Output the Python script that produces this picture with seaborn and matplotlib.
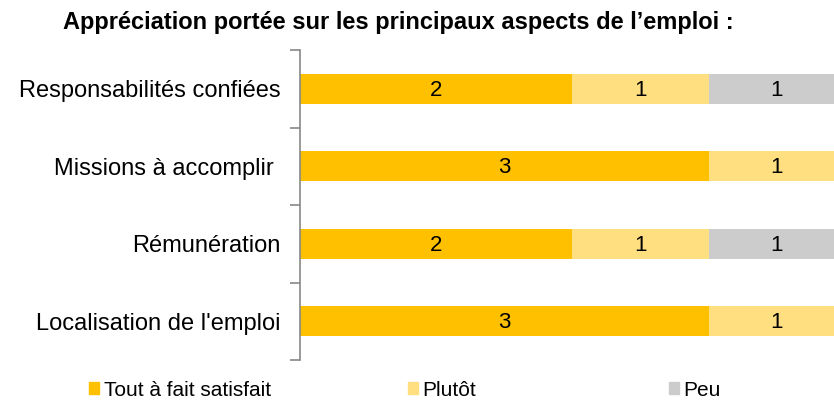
import numpy as np
import pandas as pd
import matplotlib

matplotlib.use('Agg')
import matplotlib.pyplot as plt
import seaborn as sns
from matplotlib.patches import Patch

sns.set_theme(style="white")
plt.rcParams['font.family'] = ['Liberation Sans', 'DejaVu Sans']

# données
categories = ["Responsabilités confiées", "Missions à accomplir ", "Rémunération", "Localisation de l'emploi"]
levels = ["Tout à fait satisfait", "Plutôt", "Peu"]
tout_a_fait = [2, 3, 2, 3]
plutot = [1, 1, 1, 1]
peu = [1, 0, 1, 0]
colors = ["#FFC000", "#FFDF80", "#CCCCCC"]

series = [tout_a_fait, plutot, peu]
cum = np.cumsum(np.array(series), axis=0)

fig = plt.figure(figsize=(8.34, 4.03), dpi=100)
ax = fig.add_axes([300 / 834, 43 / 403, 1 - 300 / 834, 310 / 403])

# barres empilées : on dessine les cumuls du plus grand au plus petit
for i in reversed(range(len(levels))):
    df = pd.DataFrame({"cat": categories, "val": cum[i]})
    sns.barplot(data=df, x="val", y="cat", orient="h", color=colors[i],
                width=0.39, linewidth=0, saturation=1, ax=ax)

# valeurs au centre de chaque segment
for i in range(len(levels)):
    for j, v in enumerate(series[i]):
        if v > 0:
            ax.text(cum[i][j] - v / 2, j + 0.02, str(v), ha='center', va='center',
                    fontsize=16, color='black')

ax.set_xlim(0, 3.92)
ax.set_ylim(3.5, -0.5)
ax.set_xlabel("")
ax.set_ylabel("")
ax.set_xticks([])
for s in ["top", "right", "bottom"]:
    ax.spines[s].set_visible(False)
ax.spines["left"].set_color("#888888")
ax.spines["left"].set_linewidth(1.2)

ax.set_yticks(range(len(categories)))
ax.set_yticklabels(categories, fontsize=17, color='black')
ax.set_yticks(np.arange(-0.5, len(categories), 1), minor=True)
ax.tick_params(axis='y', which='major', length=0, pad=14)
ax.tick_params(axis='y', which='minor', length=7, width=1.2, color="#888888", left=True)

fig.text(398 / 834, 1 - 22 / 403, "Appréciation portée sur les principaux aspects de l’emploi :",
         ha='center', va='center', fontsize=17, fontweight='bold', color='black')

# légende
leg_x = [89 / 834, 408 / 834, 669 / 834]
for lab, col, x in zip(levels, colors, leg_x):
    leg = fig.legend(handles=[Patch(color=col)], labels=[lab], loc='center left',
                     bbox_to_anchor=(x, 1 - 390 / 403), frameon=False, fontsize=15,
                     handlelength=0.5, handleheight=0.5, handletextpad=0.2,
                     borderaxespad=0, borderpad=0)
    for t in leg.get_texts():
        t.set_color('black')

fig.savefig("out.png", dpi=100)
